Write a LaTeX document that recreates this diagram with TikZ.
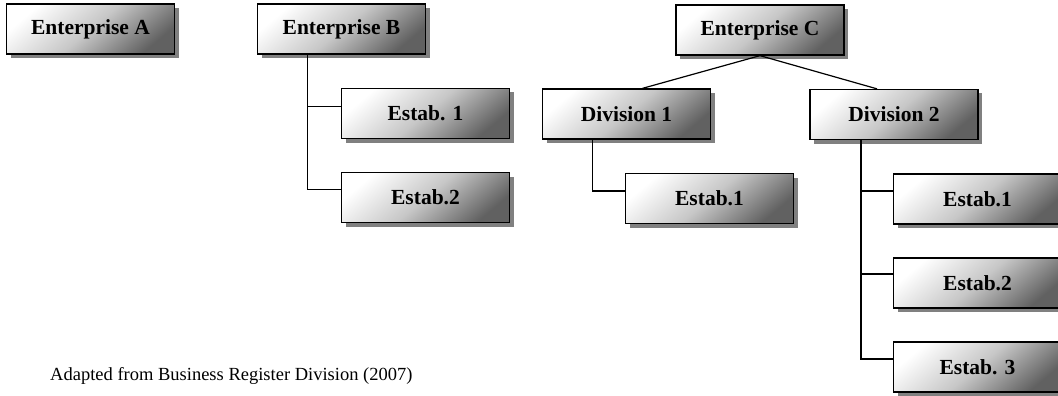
\documentclass[tikz,border=0pt]{standalone}
\usepackage{fontspec}
\setmainfont{Liberation Serif}
\usetikzlibrary{shadows,calc}
\tikzset{
  orgbox/.style={draw=black, line width=1.3pt, minimum width=168pt, minimum height=50pt,
    inner sep=0pt, top color=white, bottom color=black!62, middle color=black!22, shading angle=40,
    drop shadow={shadow xshift=4pt, shadow yshift=-4pt, fill=black!50, opacity=1},
    font=\fontsize{21.5}{24}\selectfont\bfseries},
  link/.style={draw=black, line width=1.2pt},
  note/.style={font=\fontsize{18.5}{21}\selectfont, inner sep=0pt, anchor=base west}
}
\begin{document}
\begin{tikzpicture}[x=1pt,y=-1pt]
\useasboundingbox (0,0) rectangle (1058,396);
\node[orgbox] (A) at (90.5,29) {Enterprise A};
\node[orgbox] (B) at (341.5,29) {Enterprise B};
\node[orgbox] (BE1) at (425.5,113.5) {Estab. 1};
\node[orgbox] (BE2) at (425.5,197.5) {Estab.2};
\node[orgbox] (C) at (760,30) {Enterprise C};
\node[orgbox] (D1) at (626.5,114) {Division 1};
\node[orgbox] (D2) at (894,114.5) {Division 2};
\node[orgbox] (D1E1) at (709.5,198.5) {Estab.1};
\node[orgbox] (D2E1) at (977.5,199) {Estab.1};
\node[orgbox] (D2E2) at (977.5,283) {Estab.2};
\node[orgbox] (D2E3) at (977.5,367) {Estab. 3};
\node[note] (src) at (50,380) {Adapted from Business Register Division (2007)};
% connectors
\draw[link] ([xshift=-34pt]B.south) |- ([yshift=8pt]BE2.west);
\draw[link] ([yshift=7pt]BE1.west) -| ([xshift=-34pt]B.south);
\draw[link] (C.south) -- ([xshift=16pt]D1.north);
\draw[link] (C.south) -- ([xshift=-17pt]D2.north);
\draw[link] ([xshift=-34pt]D1.south) |- ([yshift=7.5pt]D1E1.west);
\draw[link] ([xshift=-33pt]D2.south) |- ([yshift=8pt]D2E3.west);
\draw[link] ([yshift=8pt]D2E1.west) -| ([xshift=-33pt]D2.south);
\draw[link] ([yshift=9pt]D2E2.west) -| ([xshift=-33pt]D2.south);
\end{tikzpicture}
\end{document}
